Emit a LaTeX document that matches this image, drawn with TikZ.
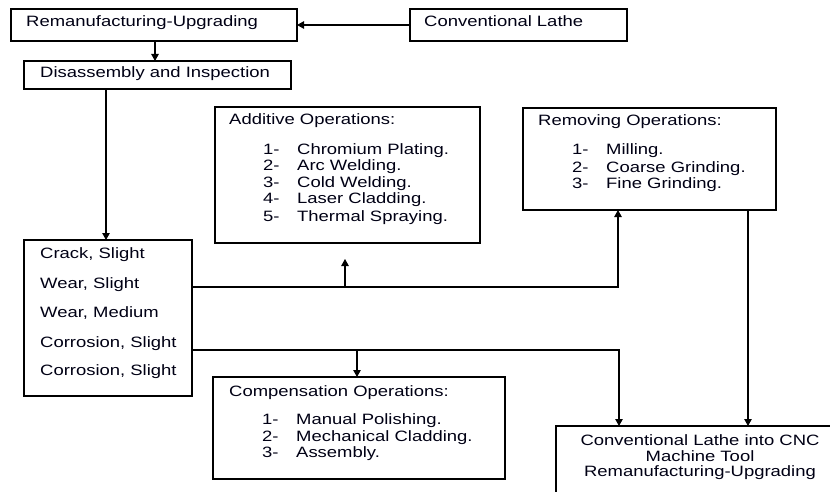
\documentclass[tikz,border=0pt]{standalone}
\usepackage{fontspec}
\setmainfont{Liberation Sans}[FakeStretch=1.23]
\usetikzlibrary{arrows.meta}
\begin{document}
\begin{tikzpicture}[x=1pt,y=-1pt,
  box/.style={draw, line width=1.1pt, inner sep=0pt, outer sep=0pt, anchor=north west},
  lbl/.style={anchor=base west, inner sep=0pt, font=\fontsize{15}{17}\selectfont, text=black!92!blue},
  clbl/.style={lbl, anchor=base},
  link/.style={line width=1.1pt},
  arr/.style={link, -{Triangle[width=7.5pt,length=7pt]}}]
\useasboundingbox (0,0) rectangle (830,492);
\clip (0,0) rectangle (830,492);

% boxes
\node[box, minimum width=286, minimum height=32] (reman) at (11,9) {};
\node[box, minimum width=217, minimum height=32] (lathe) at (410,9) {};
\node[box, minimum width=267, minimum height=28] (disasm) at (24,61) {};
\node[box, minimum width=168, minimum height=156] (damage) at (24,240) {};
\node[box, minimum width=265, minimum height=136] (additive) at (215,107) {};
\node[box, minimum width=253, minimum height=102] (removing) at (523,108) {};
\node[box, minimum width=292, minimum height=102] (comp) at (213,377) {};
\node[box, minimum width=300, minimum height=100] (cnc) at (556,426) {};

% box texts
\node[lbl] (remanT) at (26,27) {Remanufacturing-Upgrading};
\node[lbl] (latheT) at (424,27) {Conventional Lathe};
\node[lbl] (disasmT) at (40,78) {Disassembly and Inspection};

\node[lbl] (dm1) at (40,258) {Crack, Slight};
\node[lbl] (dm2) at (40,288) {Wear, Slight};
\node[lbl] (dm3) at (40,317) {Wear, Medium};
\node[lbl] (dm4) at (40,347) {Corrosion, Slight};
\node[lbl] (dm5) at (40,375) {Corrosion, Slight};

\node[lbl] (addT) at (229,125) {Additive Operations:};
\foreach \n/\t/\y in {1/Chromium Plating./154, 2/Arc Welding./171, 3/Cold Welding./187, 4/Laser Cladding./204, 5/Thermal Spraying./221}{
  \node[lbl] (addN\n) at (263,\y) {\n-};
  \node[lbl] (addI\n) at (297,\y) {\t};
}

\node[lbl] (remT) at (538,126) {Removing Operations:};
\foreach \n/\t/\y in {1/Milling./155, 2/Coarse Grinding./172, 3/Fine Grinding./188}{
  \node[lbl] (remN\n) at (572,\y) {\n-};
  \node[lbl] (remI\n) at (606,\y) {\t};
}

\node[lbl] (compT) at (229,396) {Compensation Operations:};
\foreach \n/\t/\y in {1/Manual Polishing./424, 2/Mechanical Cladding./441, 3/Assembly./457}{
  \node[lbl] (compN\n) at (262,\y) {\n-};
  \node[lbl] (compI\n) at (296,\y) {\t};
}

\node[clbl] (cnc1) at (700,445) {Conventional Lathe into CNC};
\node[clbl] (cnc2) at (700,461) {Machine Tool};
\node[clbl] (cnc3) at (700,476) {Remanufacturing-Upgrading};

% connector guides
\coordinate (a1) at (155,0);
\coordinate (a2) at (106,0);
\coordinate (r1) at (0,287);
\coordinate (r2) at (0,350);
\coordinate (xr) at (618,0);
\coordinate (xc) at (619,0);
\coordinate (xa) at (345,0);
\coordinate (xm) at (357,0);
\coordinate (xd) at (748,0);
\coordinate (upend) at (345,259);

% connectors
\draw[arr] (lathe.west) -- (reman.east);
\draw[arr] (reman.south -| a1) -- (disasm.north -| a1);
\draw[arr] (disasm.south -| a2) -- (damage.north -| a2);
\draw[arr] (damage.east |- r1) -| (removing.south -| xr);
\draw[arr] (xa |- r1) -- (upend);
\draw[arr] (damage.east |- r2) -| (cnc.north -| xc);
\draw[arr] (xm |- r2) -- (comp.north -| xm);
\draw[arr] (removing.south -| xd) -- (cnc.north -| xd);
\end{tikzpicture}
\end{document}
